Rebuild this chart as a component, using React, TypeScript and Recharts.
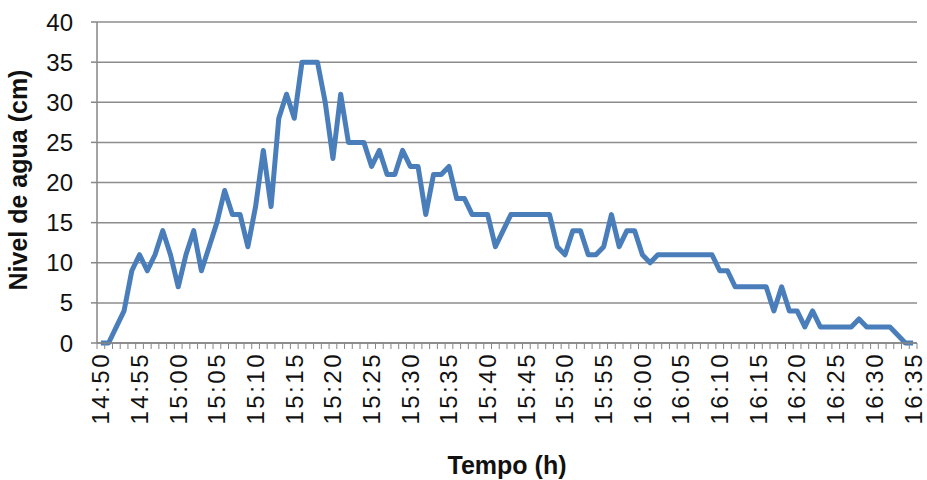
import { LineChart, Line, XAxis, YAxis, CartesianGrid } from 'recharts'

// water level (cm), one reading per minute from 14:50 to 16:35
const LEVELS = [
  0, 0, 2, 4, 9, 11, 9, 11, 14, 11,
  7, 11, 14, 9, 12, 15, 19, 16, 16, 12,
  17, 24, 17, 28, 31, 28, 35, 35, 35, 30,
  23, 31, 25, 25, 25, 22, 24, 21, 21, 24,
  22, 22, 16, 21, 21, 22, 18, 18, 16, 16,
  16, 12, 14, 16, 16, 16, 16, 16, 16, 12,
  11, 14, 14, 11, 11, 12, 16, 12, 14, 14,
  11, 10, 11, 11, 11, 11, 11, 11, 11, 11,
  9, 9, 7, 7, 7, 7, 7, 4, 7, 4,
  4, 2, 4, 2, 2, 2, 2, 2, 3, 2,
  2, 2, 2, 1, 0, 0,
]

// label shown every 5th minute
const TICK_LABELS = [
  '14:50', '14:55', '15:00', '15:05', '15:10', '15:15', '15:20', '15:25',
  '15:30', '15:35', '15:40', '15:45', '15:50', '15:55', '16:00', '16:05',
  '16:10', '16:15', '16:20', '16:25', '16:30', '16:35',
]

const Y_TICKS = [0, 5, 10, 15, 20, 25, 30, 35, 40]

const data = LEVELS.map((v, i) => ({ t: i, level: v }))
const xTicks = LEVELS.map((_, i) => i)

const FONT = '"Liberation Sans", Arial, sans-serif'
const AXIS_GRAY = '#868686'
const PLOT_LEFT = 97
const PLOT_RIGHT = 917
const HALF = (PLOT_RIGHT - PLOT_LEFT) / LEVELS.length / 2

function TimeTick(props: any) {
  const { x, y, payload } = props
  const i = payload.value as number
  return (
    <g>
      <line x1={x - HALF} x2={x - HALF} y1={y} y2={y + 6} stroke={AXIS_GRAY} strokeWidth={1} />
      {i === LEVELS.length - 1 && (
        <line x1={x + HALF} x2={x + HALF} y1={y} y2={y + 6} stroke={AXIS_GRAY} strokeWidth={1} />
      )}
      {i % 5 === 0 && (
        <text
          x={x}
          y={y + 9}
          dy="0.35em"
          transform={`rotate(-90, ${x}, ${y + 9})`}
          textAnchor="end"
          fontFamily={FONT}
          fontSize={24}
          letterSpacing={2.5}
          fill="#111"
        >
          {TICK_LABELS[i / 5]}
        </text>
      )}
    </g>
  )
}

function XTitle() {
  return (
    <text x={507} y={465} dy="0.35em" textAnchor="middle" fontFamily={FONT} fontSize={25} fontWeight="bold" fill="#111">
      Tempo (h)
    </text>
  )
}

function YTitle() {
  return (
    <text
      x={18}
      y={180}
      dy="0.35em"
      transform="rotate(-90, 18, 180)"
      textAnchor="middle"
      fontFamily={FONT}
      fontSize={25}
      fontWeight="bold"
      fill="#111"
    >
      Nivel de agua (cm)
    </text>
  )
}

export default function App() {
  return (
    <div style={{ position: 'fixed', left: 0, top: 0, background: '#fff' }}>
      <LineChart width={927} height={480} data={data} margin={{ top: 22, right: 10, left: 0, bottom: 0 }}>
        <CartesianGrid vertical={false} stroke="#8c8c8c" strokeWidth={1.5} />
        <XAxis
          dataKey="t"
          type="number"
          domain={[-0.5, LEVELS.length - 0.5]}
          ticks={xTicks}
          interval={0}
          height={137}
          tickLine={false}
          tickSize={0}
          tickMargin={0}
          stroke={AXIS_GRAY}
          strokeWidth={1.5}
          tick={<TimeTick />}
          label={<XTitle />}
        />
        <YAxis
          domain={[0, 40]}
          ticks={Y_TICKS}
          interval={0}
          width={97}
          tickSize={6}
          tickMargin={18}
          stroke={AXIS_GRAY}
          strokeWidth={1.5}
          tick={{ fontFamily: FONT, fontSize: 24, fill: '#111' }}
          label={<YTitle />}
        />
        <Line
          type="linear"
          dataKey="level"
          stroke="#4a7ebb"
          strokeWidth={5}
          strokeLinejoin="round"
          dot={false}
          isAnimationActive={false}
        />
      </LineChart>
    </div>
  )
}
